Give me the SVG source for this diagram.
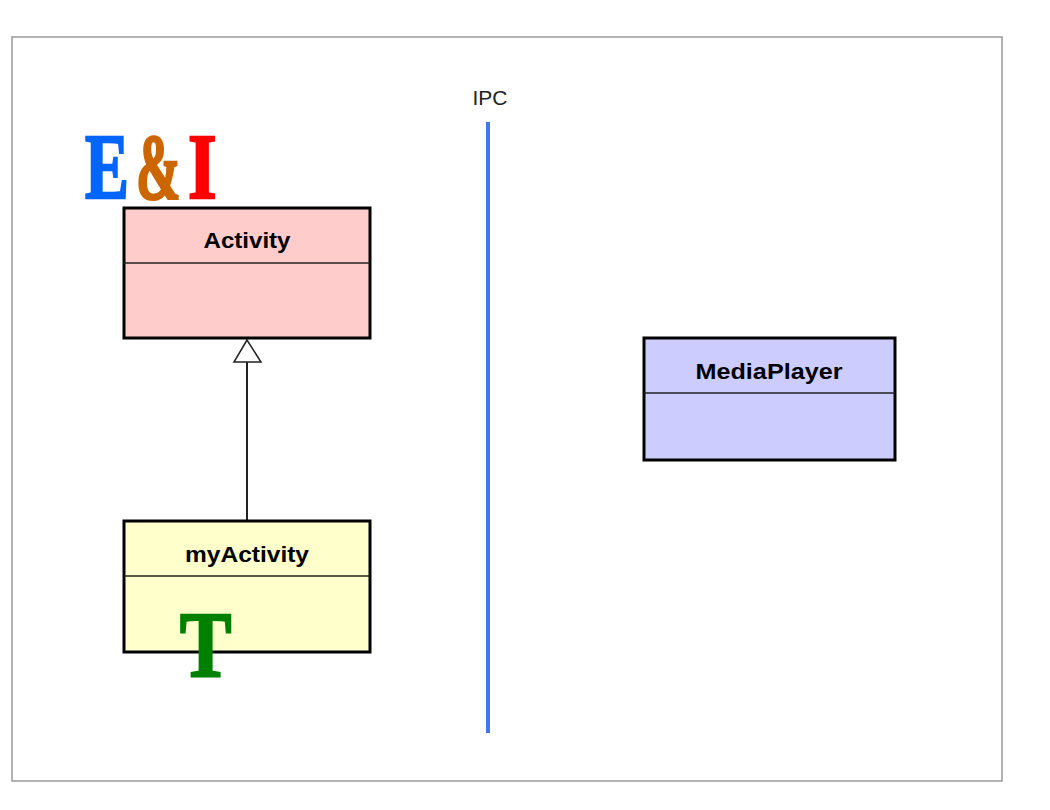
<svg xmlns="http://www.w3.org/2000/svg" width="1050" height="810" viewBox="0 0 1050 810">
<style>
.box{stroke:#000;stroke-width:3}
.div{stroke:#222;stroke-width:1.5}
.lbl{font-family:"Liberation Sans",Arial,sans-serif;font-weight:bold;font-size:22px;text-anchor:middle;fill:#000}
.big{font-family:"Liberation Serif","Times New Roman",serif;font-weight:bold;font-size:94px;stroke-width:2.5}
</style>
<rect x="12" y="37" width="990" height="744" fill="#fff" stroke="#999" stroke-width="1.5"/>
<g id="connectors">
<line x1="488" y1="122" x2="488" y2="733" stroke="#4477ee" stroke-width="4"/>
<line x1="247" y1="362" x2="247" y2="521" stroke="#222" stroke-width="2"/>
<polygon points="247,340 234,362 261,362" fill="#fff" stroke="#222" stroke-width="1.5"/>
</g>
<g id="ipc">
<text x="490" y="105" font-family="Liberation Sans,Arial,sans-serif" font-size="21" text-anchor="middle" fill="#222">IPC</text>
</g>
<g id="logo">
<text class="big" transform="translate(85,198) scale(0.7,1)" fill="#0066ff" stroke="#0066ff">E</text>
<text class="big" transform="translate(136,198) scale(0.57,1)" fill="#cc6600" stroke="#cc6600">&amp;</text>
<text class="big" transform="translate(188,198) scale(0.78,1)" fill="#ff0000" stroke="#ff0000">I</text>
</g>
<g id="activity">
<rect class="box" x="124" y="208" width="246" height="130" fill="#ffcccc"/>
<line class="div" x1="124" y1="263" x2="370" y2="263"/>
<text class="lbl" x="247" y="248" textLength="87" lengthAdjust="spacingAndGlyphs">Activity</text>
</g>
<g id="myActivity">
<rect class="box" x="124" y="521" width="246" height="131" fill="#ffffcc"/>
<line class="div" x1="124" y1="576" x2="370" y2="576"/>
<text class="lbl" x="247" y="562" textLength="124" lengthAdjust="spacingAndGlyphs">myActivity</text>
<text class="big" transform="translate(180,676) scale(0.82,1)" fill="#008000" stroke="#008000">T</text>
</g>
<g id="mediaPlayer">
<rect class="box" x="644" y="338" width="251" height="122" fill="#ccccff"/>
<line class="div" x1="644" y1="393" x2="895" y2="393"/>
<text class="lbl" x="769" y="379" textLength="147" lengthAdjust="spacingAndGlyphs">MediaPlayer</text>
</g>
</svg>
